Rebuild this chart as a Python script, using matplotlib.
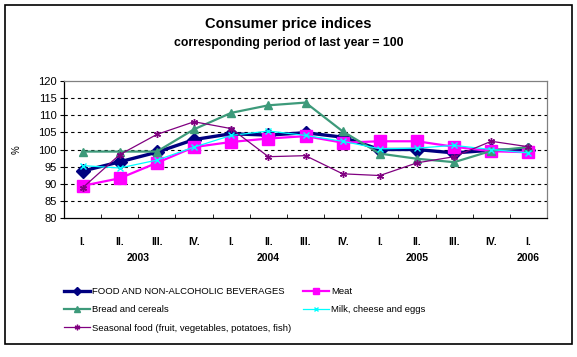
import matplotlib.pyplot as plt
import matplotlib.transforms as mtransforms
from matplotlib.patches import Rectangle
from matplotlib.lines import Line2D

plt.rcParams['font.family'] = ['Liberation Sans', 'DejaVu Sans']

quarters = ["I.", "II.", "III.", "IV.", "I.", "II.", "III.", "IV.", "I.", "II.", "III.", "IV.", "I."]
years = ["2003", "2004", "2005", "2006"]
year_pos = [1.5, 5, 9, 12]

food = [93.7, 96.4, 99.2, 102.9, 104.6, 104.2, 104.9, 103.6, 100.0, 100.0, 99.0, 99.8, 99.8]
meat = [89.4, 91.6, 96.1, 100.7, 102.2, 103.2, 103.9, 102.0, 102.4, 102.4, 100.8, 99.5, 99.2]
bread = [99.4, 99.4, 99.4, 105.9, 110.7, 112.9, 113.7, 105.3, 98.8, 97.3, 96.3, 99.6, 100.7]
milk = [95.3, 94.6, 96.9, 100.7, 104.1, 105.4, 104.1, 102.4, 100.2, 100.4, 101.2, 100.0, 99.0]
seasonal = [88.8, 98.5, 104.4, 108.1, 106.1, 97.9, 98.2, 92.9, 92.4, 96.1, 97.9, 102.4, 100.8]

fig = plt.figure(figsize=(5.77, 3.57), dpi=100)
fig.patches.append(Rectangle((5 / 577, 1 - 344 / 357), 567 / 577, 339 / 357,
                             transform=fig.transFigure, fill=False, edgecolor='black', linewidth=1.2))

ax = fig.add_axes([64 / 577, 1 - 218 / 357, 483 / 577, 137 / 357])
x = list(range(len(quarters)))

# series: label, values, colour, linewidth, marker, markersize, legend markersize
series = [
    ('FOOD AND NON-ALCOHOLIC BEVERAGES', food, '#000080', 2.4, 'D', 7, 4),
    ('Meat', meat, '#FF00FF', 1.6, 's', 8, 4),
    ('Bread and cereals', bread, '#3D9A7A', 1.6, '^', 6, 4.5),
    ('Milk, cheese and eggs', milk, '#00FFFF', 0.9, 'x', 4.5, 3.5),
    ('Seasonal food (fruit, vegetables, potatoes, fish)', seasonal, '#800080', 0.9, (6, 2, 0), 5, 4),
]

handles = {}
for z, (lab, vals, col, lw, mk, ms, lms) in enumerate(series):
    ax.plot(x, vals, color=col, linewidth=lw, marker=mk, markersize=ms,
            markeredgewidth=1, zorder=3 + z)
    handles[lab] = Line2D([], [], color=col, linewidth=lw, marker=mk, markersize=lms,
                          markeredgewidth=1)

ax.set_xlim(-0.5, len(quarters) - 0.5)
ax.set_ylim(80, 120)
ax.set_yticks(range(80, 121, 5))
ax.set_xticks(x)
ax.set_xticklabels(quarters, fontsize=7.5, fontweight='bold')
ax.set_xticks([i + 0.5 for i in range(len(quarters) - 1)], minor=True)
ax.tick_params(axis='x', which='major', length=0, pad=14)
ax.tick_params(axis='x', which='minor', length=3, direction='in')
ax.tick_params(axis='y', labelsize=8, length=3, direction='out', pad=2)
for v in range(85, 120, 5):
    ax.axhline(v, color='black', linestyle=(0, (3, 3)), linewidth=0.8, zorder=1)
ax.spines['top'].set_color('#808080')
ax.spines['right'].set_color('#808080')
for s in ax.spines.values():
    s.set_linewidth(0.9)

ax.set_ylabel('%', fontsize=7, labelpad=12)

trans = mtransforms.blended_transform_factory(ax.transData, fig.transFigure)
for yr, p in zip(years, year_pos):
    ax.text(p, 1 - 258 / 357, yr, transform=trans, ha='center', va='center',
            fontsize=7.5, fontweight='bold')

fig.text(0.5, 1 - 24 / 357, 'Consumer price indices', ha='center', va='center',
         fontsize=10.5, fontweight='bold')
fig.text(0.5, 1 - 43 / 357, 'corresponding period of last year = 100', ha='center', va='center',
         fontsize=8.8, fontweight='bold')

order = ['FOOD AND NON-ALCOHOLIC BEVERAGES', 'Bread and cereals',
         'Seasonal food (fruit, vegetables, potatoes, fish)', 'Meat', 'Milk, cheese and eggs']
fig.legend([handles[k] for k in order], order,
           loc='upper left', bbox_to_anchor=(64 / 577, 1 - 287 / 357), ncol=2,
           frameon=False, fontsize=6.8, handlelength=2.8, handletextpad=0.2,
           labelspacing=0.98, columnspacing=1.2, borderaxespad=0, borderpad=0)

fig.savefig('out.png', dpi=100)
